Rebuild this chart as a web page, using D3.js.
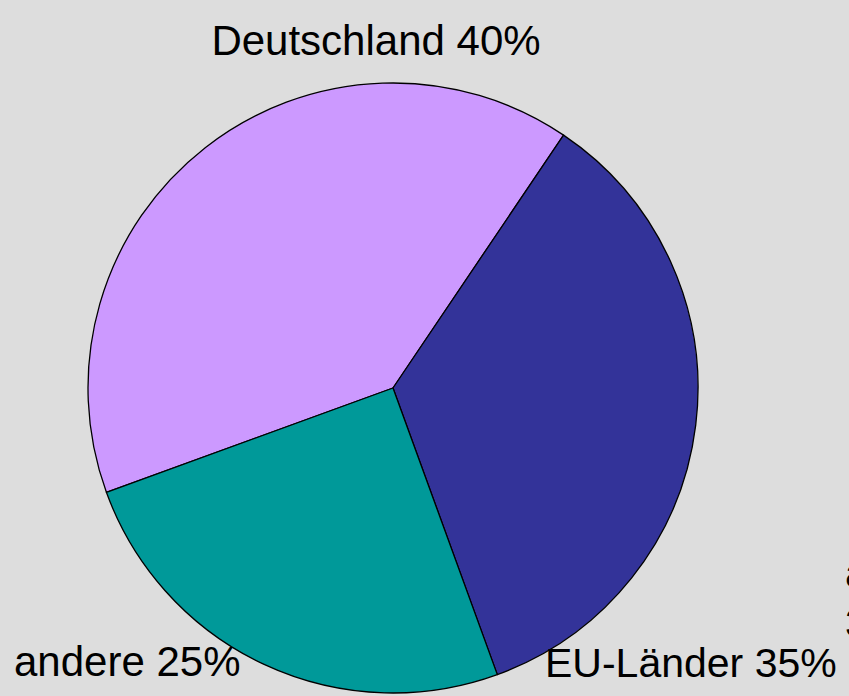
<!DOCTYPE html>
<html>
<head>
<meta charset="utf-8">
<script src="https://cdn.jsdelivr.net/npm/d3@7"></script>
<style>
  html, body { margin: 0; padding: 0; background: #dddddd; }
  svg { display: block; }
</style>
</head>
<body>
<div id="chart"></div>
<script>
// Data
const labels = ["Deutschland", "EU-Länder", "andere"];
const shares = [40, 35, 25];
const colors = ["#cc99ff", "#333399", "#009999"];

const width = 849, height = 696;
const cx = 393, cy = 388, radius = 305;

const svg = d3.select("#chart").append("svg")
    .attr("width", width)
    .attr("height", height)
    .style("background", "#dddddd");

// Slices start at the lower left, going clockwise
const startAngle = -110 * Math.PI / 180;
const pie = d3.pie()
    .sort(null)
    .startAngle(startAngle)
    .endAngle(startAngle + 2 * Math.PI)
    .value(d => d);

const arc = d3.arc().innerRadius(0).outerRadius(radius);

const g = svg.append("g").attr("transform", `translate(${cx},${cy})`);

g.selectAll("path")
    .data(pie(shares))
    .enter()
    .append("path")
    .attr("d", arc)
    .attr("fill", (d, i) => colors[i])
    .attr("stroke", "#000")
    .attr("stroke-width", 1.3)
    .attr("stroke-linejoin", "round");

/* Labels */
const labelPos = [
    {x: 376, y: 55, anchor: "middle", size: 42},
    {x: 545, y: 677, anchor: "start", size: 41},
    {x: 14, y: 676, anchor: "start", size: 42}
];

svg.selectAll("text.lbl")
    .data(labels)
    .enter()
    .append("text")
    .attr("class", "lbl")
    .attr("x", (d, i) => labelPos[i].x)
    .attr("y", (d, i) => labelPos[i].y)
    .attr("text-anchor", (d, i) => labelPos[i].anchor)
    .attr("font-family", "'Liberation Sans', Arial, sans-serif")
    .attr("font-size", (d, i) => labelPos[i].size)
    .attr("fill", "#000")
    .text((d, i) => d + " " + shares[i] + "%");

// text that the reference also shows cut off at the right edge
const edge = svg.append("text")
    .attr("font-family", "'Liberation Sans', Arial, sans-serif")
    .attr("font-size", 41)
    .attr("fill", "#000");
edge.append("tspan").attr("x", 845).attr("y", 587).text("a");
edge.append("tspan").attr("x", 845).attr("y", 637).text("3");
</script>
</body>
</html>
